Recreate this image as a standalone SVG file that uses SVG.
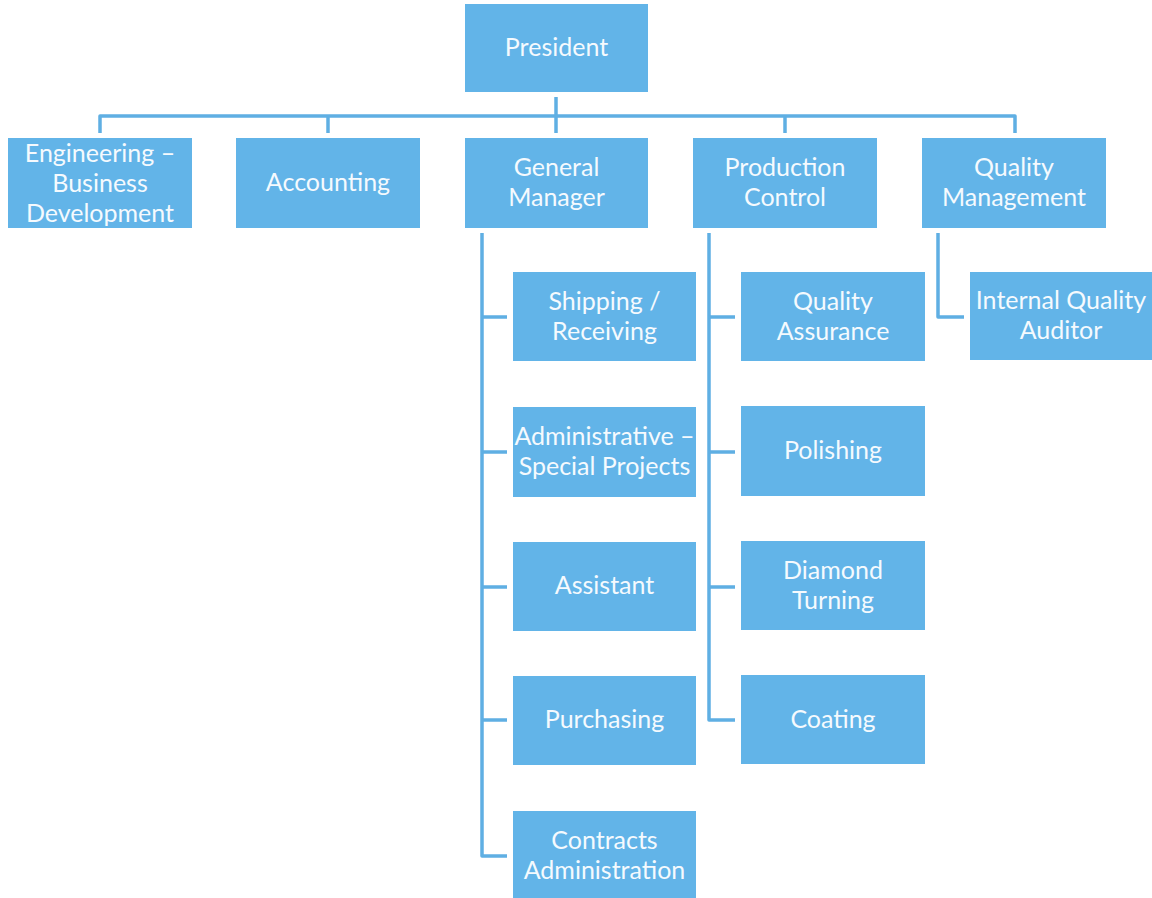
<svg xmlns="http://www.w3.org/2000/svg" width="1152" height="898" viewBox="0 0 1152 898">
<style>
.box{fill:#62B4E8}
.t{font-family:Lato,"Open Sans","Liberation Sans",sans-serif;font-size:25px;fill:#F5FAFE;text-anchor:middle}
.ln{fill:none;stroke:#5FAFE3;stroke-width:3.5;stroke-linejoin:round;stroke-linecap:butt}
</style>
<rect width="1152" height="898" fill="#FFFFFF"/>
<g id="connectors">
<path class="ln" d="M556,97 V133"/>
<path class="ln" d="M100,133 V116 H1015 V133"/>
<path class="ln" d="M328,116 V133"/>
<path class="ln" d="M785,116 V133"/>
<path class="ln" d="M482,233 V856 H507"/>
<path class="ln" d="M482,317 H507 M482,452 H507 M482,587 H507 M482,720 H507"/>
<path class="ln" d="M709,233 V720 H735"/>
<path class="ln" d="M709,317 H735 M709,452 H735 M709,587 H735"/>
<path class="ln" d="M938,233 V317 H964"/>
</g>
<g id="president"><rect class="box" x="465" y="4" width="183" height="88"/><text class="t" x="556.5" y="56">President</text></g>
<g id="engineering"><rect class="box" x="8" y="138" width="184" height="90"/><text class="t" x="100" y="162">Engineering –</text><text class="t" x="100" y="192">Business</text><text class="t" x="100" y="222">Development</text></g>
<g id="accounting"><rect class="box" x="236" y="138" width="184" height="90"/><text class="t" x="328" y="191">Accounting</text></g>
<g id="general-manager"><rect class="box" x="465" y="138" width="183" height="90"/><text class="t" x="556.5" y="176">General</text><text class="t" x="556.5" y="206">Manager</text></g>
<g id="production-control"><rect class="box" x="693" y="138" width="184" height="90"/><text class="t" x="785" y="176">Production</text><text class="t" x="785" y="206">Control</text></g>
<g id="quality-management"><rect class="box" x="922" y="138" width="184" height="90"/><text class="t" x="1014" y="176">Quality</text><text class="t" x="1014" y="206">Management</text></g>
<g id="shipping"><rect class="box" x="513" y="272" width="183" height="89"/><text class="t" x="604.5" y="310">Shipping /</text><text class="t" x="604.5" y="340">Receiving</text></g>
<g id="administrative"><rect class="box" x="513" y="407" width="183" height="90"/><text class="t" x="604.5" y="445">Administrative –</text><text class="t" x="604.5" y="475">Special Projects</text></g>
<g id="assistant"><rect class="box" x="513" y="542" width="183" height="89"/><text class="t" x="604.5" y="594">Assistant</text></g>
<g id="purchasing"><rect class="box" x="513" y="676" width="183" height="89"/><text class="t" x="604.5" y="728">Purchasing</text></g>
<g id="contracts"><rect class="box" x="513" y="811" width="183" height="89"/><text class="t" x="604.5" y="849">Contracts</text><text class="t" x="604.5" y="879">Administration</text></g>
<g id="quality-assurance"><rect class="box" x="741" y="272" width="184" height="89"/><text class="t" x="833" y="310">Quality</text><text class="t" x="833" y="340">Assurance</text></g>
<g id="polishing"><rect class="box" x="741" y="406" width="184" height="90"/><text class="t" x="833" y="459">Polishing</text></g>
<g id="diamond-turning"><rect class="box" x="741" y="541" width="184" height="89"/><text class="t" x="833" y="579">Diamond</text><text class="t" x="833" y="609">Turning</text></g>
<g id="coating"><rect class="box" x="741" y="675" width="184" height="89"/><text class="t" x="833" y="728">Coating</text></g>
<g id="internal-quality-auditor"><rect class="box" x="970" y="272" width="186" height="88"/><text class="t" x="1061" y="309">Internal Quality</text><text class="t" x="1061" y="339">Auditor</text></g>
</svg>
